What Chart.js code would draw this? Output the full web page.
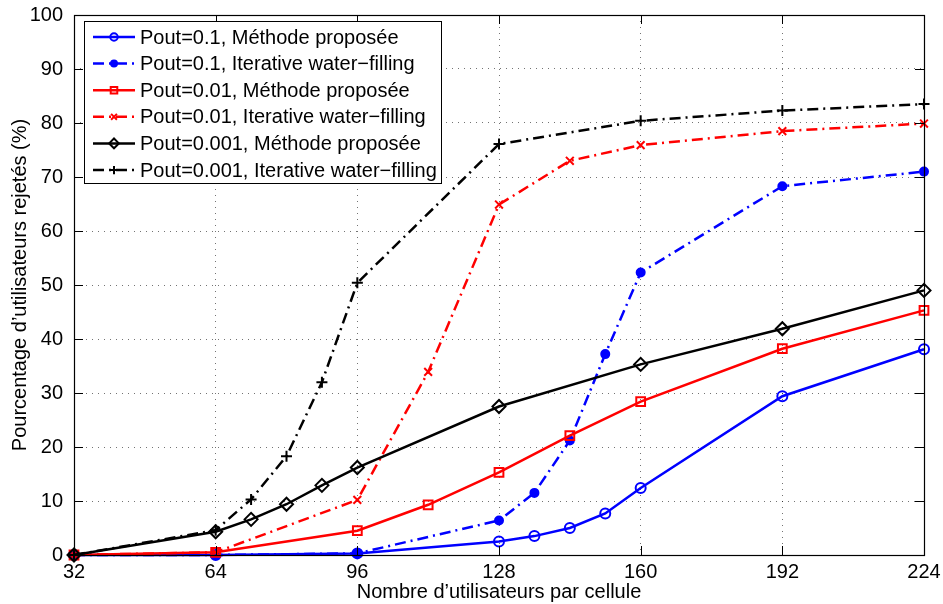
<!DOCTYPE html>
<html>
<head>
<meta charset="utf-8">
<script src="https://cdn.jsdelivr.net/npm/chart.js@4"></script>
<style>
  html, body { margin: 0; padding: 0; background: #fff; }
  #c { display: block; }
</style>
</head>
<body>
<canvas id="c" width="943" height="604"></canvas>
<script>
// number of users per cell
var xP1 = [32, 64, 96, 128, 136, 144, 152, 160, 192, 224];
var xP01 = [32, 64, 96, 112, 128, 144, 160, 192, 224];
var xP001 = [32, 64, 72, 80, 88, 96, 128, 160, 192, 224];

// rejected users (%)
var proposeeP1 = [0, 0, 0.3, 2.5, 3.5, 5.0, 7.7, 12.4, 29.4, 38.1];
var iwfP1 = [0, 0, 0.3, 6.4, 11.5, 21.2, 37.2, 52.3, 68.3, 71.0];
var proposeeP01 = [0, 0.5, 4.5, 9.3, 15.3, 22.1, 28.4, 38.2, 45.3];
var iwfP01 = [0, 0.5, 10.2, 33.9, 64.9, 73.0, 75.9, 78.5, 79.9];
var proposeeP001 = [0, 4.3, 6.6, 9.4, 12.9, 16.2, 27.5, 35.3, 41.9, 49.0];
var iwfP001 = [0, 4.6, 10.3, 18.3, 32.0, 50.4, 76.1, 80.4, 82.3, 83.5];

var xTicks = [32, 64, 96, 128, 160, 192, 224];
var labels = [
  'Pout=0.1, Méthode proposée',
  'Pout=0.1, Iterative water\u2212filling',
  'Pout=0.01, Méthode proposée',
  'Pout=0.01, Iterative water\u2212filling',
  'Pout=0.001, Méthode proposée',
  'Pout=0.001, Iterative water\u2212filling'
];

var FONT = 'Helvetica, "Liberation Sans", Arial, sans-serif';
var FONT_SIZE = 20;
var DASHDOT = [11, 5, 2, 5];

function pts(xs, ys) {
  return xs.map(function (x, i) { return { x: x, y: ys[i] }; });
}

function series(i, xs, ys, color, dashed, style, radius, filled) {
  return {
    label: labels[i],
    data: pts(xs, ys),
    borderColor: color,
    backgroundColor: color,
    borderWidth: 2.5,
    borderDash: dashed ? DASHDOT : [],
    pointStyle: style,
    pointRadius: radius,
    pointBorderWidth: 2,
    pointBorderColor: color,
    pointBackgroundColor: filled ? color : 'rgba(0,0,0,0)',
    tension: 0,
    clip: false,
    order: 10 - i   // later series on top
  };
}

// box on all four sides with inward ticks
var frame = {
  id: 'frame',
  afterDatasetsDraw: function (chart) {
    var a = chart.chartArea, ctx = chart.ctx;
    var xs = chart.scales.x, ys = chart.scales.y;
    ctx.save();
    ctx.strokeStyle = '#000';
    ctx.lineWidth = 1;
    ctx.beginPath();
    xs.ticks.forEach(function (t) {
      var px = Math.round(xs.getPixelForValue(t.value)) + 0.5;
      ctx.moveTo(px, a.bottom); ctx.lineTo(px, a.bottom - 9);
      ctx.moveTo(px, a.top); ctx.lineTo(px, a.top + 9);
    });
    ys.ticks.forEach(function (t) {
      var py = Math.round(ys.getPixelForValue(t.value)) + 0.5;
      ctx.moveTo(a.left, py); ctx.lineTo(a.left + 9, py);
      ctx.moveTo(a.right, py); ctx.lineTo(a.right - 9, py);
    });
    ctx.stroke();
    ctx.lineWidth = 1.2;
    ctx.strokeRect(Math.round(a.left) + 0.5, Math.round(a.top) + 0.5,
      Math.round(a.right - a.left), Math.round(a.bottom - a.top));
    ctx.restore();
  }
};

// legend box in the upper-left corner of the axes
var boxLegend = {
  id: 'boxLegend',
  afterDraw: function (chart) {
    var ctx = chart.ctx, a = chart.chartArea;
    var x0 = a.left + 10, y0 = a.top + 6, w = 357, h = 162, row = 26.6;
    ctx.save();
    ctx.fillStyle = '#fff';
    ctx.fillRect(x0, y0, w, h);
    ctx.strokeStyle = '#000';
    ctx.lineWidth = 1;
    ctx.strokeRect(Math.round(x0) + 0.5, Math.round(y0) + 0.5, w, h);
    chart.data.datasets.forEach(function (ds, i) {
      var y = y0 + 16 + i * row;
      ctx.save();
      ctx.strokeStyle = ds.borderColor;
      ctx.lineWidth = ds.borderWidth;
      ctx.setLineDash(ds.borderDash);
      ctx.beginPath();
      ctx.moveTo(x0 + 9, y); ctx.lineTo(x0 + 51, y);
      ctx.stroke();
      ctx.setLineDash([]);
      ctx.fillStyle = ds.pointBackgroundColor;
      ctx.strokeStyle = ds.pointBorderColor;
      ctx.lineWidth = 2;
      Chart.helpers.drawPoint(ctx, {
        pointStyle: ds.pointStyle,
        radius: ds.pointRadius * 0.75,
        rotation: 0,
        borderWidth: 2
      }, x0 + 30, y);
      ctx.restore();
      ctx.fillStyle = '#000';
      ctx.font = FONT_SIZE + 'px ' + FONT;
      ctx.textBaseline = 'middle';
      ctx.textAlign = 'left';
      ctx.fillText(ds.label, x0 + 56, y + 1);
    });
    ctx.restore();
  }
};

var datasets = [
  series(0, xP1, proposeeP1, '#0000ff', false, 'circle', 5, false),
  series(1, xP1, iwfP1, '#0000ff', true, 'circle', 4, true),
  series(2, xP01, proposeeP01, '#ff0000', false, 'rect', 6.2, false),
  series(3, xP01, iwfP01, '#ff0000', true, 'crossRot', 5.5, false),
  series(4, xP001, proposeeP001, '#000000', false, 'rectRot', 6.5, false),
  series(5, xP001, iwfP001, '#000000', true, 'cross', 5.5, false)
];

// dotted grid; the outer tick marks are invisible and only reserve space
function gridLines(tickLength) {
  return {
    color: 'rgba(0,0,0,0.55)',
    lineWidth: 1,
    drawTicks: true,
    tickLength: tickLength,
    tickColor: 'rgba(0,0,0,0)'
  };
}

new Chart(document.getElementById('c'), {
  type: 'line',
  data: { datasets: datasets },
  plugins: [frame, boxLegend],
  options: {
    responsive: false,
    animation: false,
    layout: { padding: { left: 0, right: 19, top: 15, bottom: 0 } },
    plugins: { legend: { display: false }, tooltip: { enabled: false } },
    scales: {
      x: {
        type: 'linear',
        min: 32,
        max: 224,
        afterFit: function (s) { s.height = 49; },
        afterBuildTicks: function (s) {
          s.ticks = xTicks.map(function (v) { return { value: v }; });
        },
        grid: gridLines(5),
        border: { display: false, dash: [1, 5] },
        ticks: {
          padding: 0,
          color: '#000',
          font: { family: FONT, size: FONT_SIZE },
          maxRotation: 0
        },
        title: {
          display: true,
          text: 'Nombre d\u2019utilisateurs par cellule',
          color: '#000',
          font: { family: FONT, size: FONT_SIZE },
          padding: { top: 0, bottom: 0 }
        }
      },
      y: {
        min: 0,
        max: 100,
        afterFit: function (s) { s.width = 74; },
        grid: gridLines(8),
        border: { display: false, dash: [1, 5] },
        ticks: {
          stepSize: 10,
          padding: 3,
          color: '#000',
          font: { family: FONT, size: FONT_SIZE }
        },
        title: {
          display: true,
          text: 'Pourcentage d\u2019utilisateurs rejetés (%)',
          color: '#000',
          font: { family: FONT, size: FONT_SIZE },
          padding: { top: 8, bottom: 0 }
        }
      }
    }
  }
});
</script>
</body>
</html>
